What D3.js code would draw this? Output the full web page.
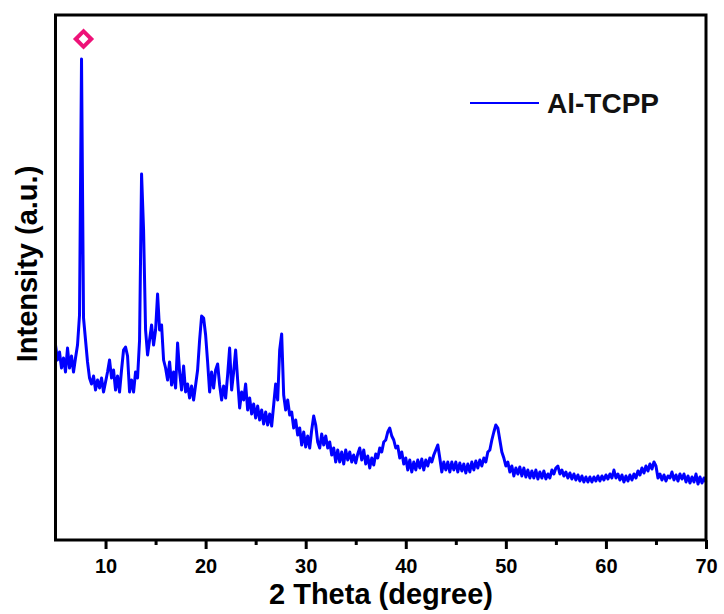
<!DOCTYPE html>
<html><head><meta charset="utf-8">
<script src="https://cdn.jsdelivr.net/npm/d3@7"></script>
<style>body{margin:0;background:#fff}svg{display:block}text{font-family:Arial,"Liberation Sans",sans-serif;font-weight:bold}</style>
</head><body><svg id="c" width="724" height="614"></svg>
<script>
// 2θ from 5.0 to 70.0 in 0.2° steps
const thetaStart = 5.0, thetaStep = 0.2;
const intensity = [
195,180,188,172,182,168,192,172,184,168,
182,195,225,481,222,200,178,162,156,164,
150,160,152,162,148,158,168,180,162,170,
150,164,148,170,190,193,184,148,160,148,
168,162,200,366,310,210,185,200,215,195,
210,246,210,215,180,172,160,178,155,168,
152,197,168,150,174,148,156,142,154,140,
155,170,200,224,222,205,178,148,168,152,
170,176,155,140,154,142,165,192,150,168,
190,160,132,148,140,156,130,142,126,136,
122,134,120,130,116,128,115,126,114,135,
156,140,190,206,145,130,140,125,128,112,
120,105,112,95,108,93,104,92,110,124,
115,98,92,106,95,104,92,98,85,92,
78,90,78,88,76,90,80,88,78,85,
77,86,92,80,90,76,84,72,82,75,
86,82,92,88,98,100,108,112,104,100,
92,94,82,88,76,82,70,80,68,78,
70,80,72,81,70,80,74,82,78,85,
90,95,82,68,78,70,78,68,78,70,
78,68,77,69,76,67,76,68,78,70,
79,72,80,74,82,78,88,90,100,108,
115,112,100,88,82,74,78,68,74,64,
72,66,73,64,72,63,70,62,69,62,
70,61,68,62,69,61,66,62,70,66,
72,74,66,70,64,68,62,67,61,66,
60,65,59,64,58,63,58,63,58,63,
59,64,59,64,60,65,61,66,62,70,
62,66,60,65,58,64,59,65,60,66,
62,69,65,72,67,74,69,76,71,78,
74,62,66,60,65,59,64,62,68,60,
65,59,66,61,66,58,64,57,63,58,
66,56,63,57,62,58
];
const seriesName = "Al-TCPP";
const xTicks = [10,20,30,40,50,60,70];
const xMinorTicks = [15,25,35,45,55,65];
const markerTheta = [7.8];
const markerIntensity = [501];

const svg = d3.select("#c");
const L = 55.5, R = 706, T = 15, B = 540;
const x = d3.scaleLinear().domain([5,70]).range([L,R]);
const y = d3.scaleLinear().domain([0,525]).range([B,T]);

const data = intensity.map((v,i)=>({t: thetaStart + i*thetaStep, v}));

svg.append("path").datum(data)
  .attr("fill","none").attr("stroke","#0000ff").attr("stroke-width",3)
  .attr("stroke-linejoin","round")
  .attr("d", d3.line().x(d=>x(d.t)).y(d=>y(d.v)));

// frame
svg.append("rect").attr("x",L).attr("y",T).attr("width",R-L).attr("height",B-T)
  .attr("fill","none").attr("stroke","#000").attr("stroke-width",3);

// x axis
const ax = svg.append("g").attr("transform",`translate(0,${B})`)
  .call(d3.axisBottom(x).tickValues(xTicks).tickSize(9).tickPadding(10).tickFormat(d3.format("d")));
ax.select(".domain").remove();
ax.selectAll(".tick line").attr("stroke","#000").attr("stroke-width",3);
ax.selectAll(".tick text").attr("font-size",20).attr("font-family","Arial, 'Liberation Sans', sans-serif").attr("font-weight","bold").attr("fill","#000");
const axm = svg.append("g").attr("transform",`translate(0,${B})`)
  .call(d3.axisBottom(x).tickValues(xMinorTicks).tickSize(5).tickFormat(""));
axm.select(".domain").remove();
axm.selectAll(".tick line").attr("stroke","#000").attr("stroke-width",3);

// axis titles
svg.append("text").attr("x",381).attr("y",604).attr("text-anchor","middle")
  .attr("font-size",29).text("2 Theta (degree)");
svg.append("text").attr("transform","translate(37,264) rotate(-90)").attr("text-anchor","middle")
  .attr("font-size",29).text("Intensity (a.u.)");

// marker
svg.selectAll(".mk").data(markerTheta).enter().append("path")
  .attr("d", d3.symbol().type(d3.symbolSquare).size(120))
  .attr("transform",(d,i)=>`translate(${x(d)},${y(markerIntensity[i])}) rotate(45)`)
  .attr("fill","#fff").attr("stroke","#ee1278").attr("stroke-width",4);

// legend
svg.append("line").attr("x1",470).attr("x2",539).attr("y1",103).attr("y2",103)
  .attr("stroke","#0000ff").attr("stroke-width",2);
svg.append("text").attr("x",547).attr("y",113).attr("font-size",28).attr("fill","#111").text(seriesName);
</script></body></html>
